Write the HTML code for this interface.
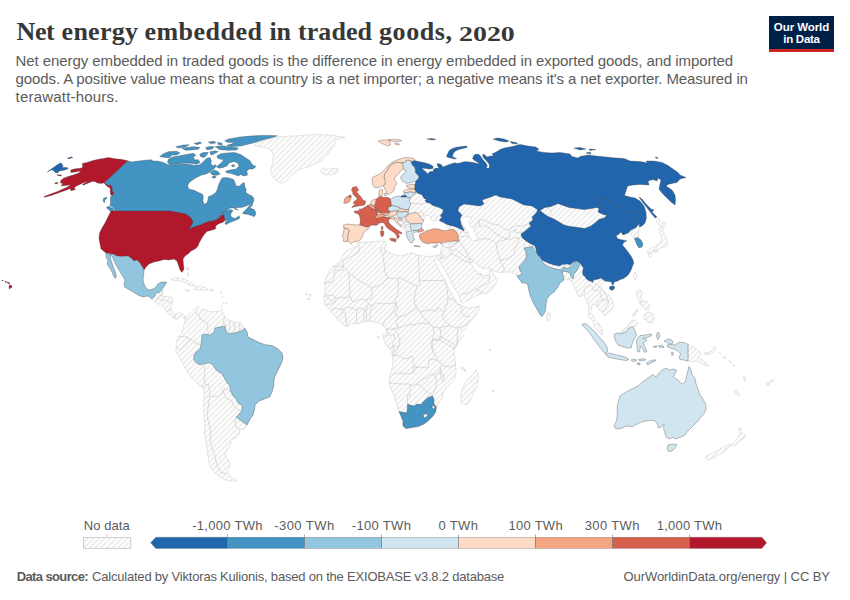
<!DOCTYPE html>
<html><head><meta charset="utf-8">
<style>
html,body{margin:0;padding:0;background:#fff;}
body{width:850px;height:600px;position:relative;overflow:hidden;font-family:"Liberation Sans",sans-serif;}
.abs{position:absolute;white-space:nowrap;}
.tw{font-family:"Liberation Serif",serif;font-weight:bold;font-size:26px;line-height:30px;color:#373737;top:17.1px;}
.sub{left:15.6px;font-size:15px;line-height:18px;color:#5b5b5b;}
#logo{left:769px;top:16px;width:65px;height:33px;background:#002147;}
#logo .bar{position:absolute;left:0;top:33px;width:65px;height:2.8px;background:#ce261e;}
#logo .t{position:absolute;left:0;width:65px;text-align:center;color:#fff;font-weight:bold;font-size:11.5px;line-height:12px;}
.foot{font-size:13px;color:#5b5b5b;top:568.8px;line-height:16px;}
.lg{font-size:13px;color:#5b5b5b;line-height:16px;top:517.5px;transform:translateX(-50%);}
</style></head>
<body>
<div class="abs tw" style="left:16.6px;letter-spacing:-0.45px">Net</div>
<div class="abs tw" style="left:61.6px;letter-spacing:0.26px">energy</div>
<div class="abs tw" style="left:144.4px;letter-spacing:0.5px">embedded</div>
<div class="abs tw" style="left:269.6px;letter-spacing:-0.28px">in</div>
<div class="abs tw" style="left:298px;letter-spacing:0.07px">traded</div>
<div class="abs tw" style="left:379px;letter-spacing:0.58px">goods,</div>
<div class="abs tw" style="left:459.4px;top:19.1px;font-size:20px;transform-origin:0 0;transform:scaleX(1.395)">2020</div>
<div class="abs sub" style="top:52.3px;letter-spacing:-0.083px">Net energy embedded in traded goods is the difference in energy embedded in exported goods, and imported</div>
<div class="abs sub" style="top:70.4px;letter-spacing:-0.105px">goods. A positive value means that a country is a net importer; a negative means it's a net exporter. Measured in</div>
<div class="abs sub" style="top:88.4px;letter-spacing:0.2px">terawatt-hours.</div>
<div id="logo" class="abs"><div class="t" style="top:4.5px;letter-spacing:-0.08px">Our World</div><div class="t" style="top:16.5px;letter-spacing:-0.26px">in Data</div><div class="bar"></div></div>
<svg class="abs" style="left:0;top:0" width="850" height="600" viewBox="0 0 850 600">
<defs>
<pattern id="hatch" width="4" height="4" patternUnits="userSpaceOnUse" patternTransform="rotate(-45 2 2)"><rect x="-1" y="-1" width="6" height="6" fill="#fff"/><path d="M-1,2 l6,0" stroke="#d0d0d0" stroke-width="0.72"/></pattern>
</defs>
<g id="map" stroke-linejoin="round">
<path d="M255,144.7 257.5,142.5 263.3,140.8 270,138.7 277.5,137 286.7,136.3 298.3,135.8 311.7,134.7 323.3,134.7 333.3,135.3 345,137.5 338.3,138.7 335.8,140.8 334.2,145 331.7,148.3 329.2,152.5 325.8,156.7 322.5,160 318.3,162.5 313.3,165 307.5,167 301.7,168.7 296.7,170.8 292.5,174.2 289.2,178 285.8,181.7 281.7,183.3 277.5,181.7 274.2,178.7 272,175 270.8,170.8 271.7,166.7 273,162.5 272,159.2 273.7,155.8 272.5,152.5 270,149.2 265,147.5 259.2,146.7 255.3,145.8Z" fill="url(#hatch)" stroke="#cfcfcf" stroke-width="0.55" fill-rule="evenodd"/>
<path d="M320.8,170 323.3,168.3 328.3,169.2 332.5,168 337.5,168.7 338.7,170.8 335.8,173.3 330.8,174.7 325.8,174.7 322,173Z" fill="url(#hatch)" stroke="#cfcfcf" stroke-width="0.55" fill-rule="evenodd"/>
<path d="M151.8,299.1 152.9,297.9 154.7,296.2 155.3,293.8 157.1,292.6 159.4,292.1 161.2,290.3 162.4,288.5 162.9,292.6 162.1,295.2 163.5,296.8 168.2,296.2 171.8,297.4 172.9,299.1 172.4,302.1 171.5,305.6 170.8,309.1 171.8,311.5 173.5,313.2 175.3,314.4 177.6,313.2 180.6,312.6 182.9,313.8 184.7,315.6 185.9,317.9 185.3,319.5 184.1,317.9 181.8,315.8 179.4,317 177.6,319.4 175.3,318.8 171.8,316.4 169.4,314.1 166.5,311.7 164.7,308.8 161.8,305.8 157.6,303.5 154.1,301.7Z" fill="url(#hatch)" stroke="#cfcfcf" stroke-width="0.55" fill-rule="evenodd"/>
<path d="M171,279 176,277.6 182,278.4 188,281 193,283.6 195,285.6 190,285.6 186,283 180,281 174,280.4Z" fill="url(#hatch)" stroke="#cfcfcf" stroke-width="0.55" fill-rule="evenodd"/>
<path d="M195,287 200,286 205,287.6 208,289.6 203,290.4 198,290 194,289.6Z" fill="url(#hatch)" stroke="#cfcfcf" stroke-width="0.55" fill-rule="evenodd"/>
<path d="M185,289.6 189,289.6 189.6,291 186,291.2Z" fill="url(#hatch)" stroke="#cfcfcf" stroke-width="0.55" fill-rule="evenodd"/>
<path d="M209.6,289.4 213,289.4 213.2,290.8 210,290.8Z" fill="url(#hatch)" stroke="#cfcfcf" stroke-width="0.55" fill-rule="evenodd"/>
<path d="M186,319 190,313 195,309 199,306 198,309 196,313 199,314.4 202,309 208,311 214,312 220,311 223,313 225,317 229,320 234,322 240,322.4 244,327 247,332 248,337 254,340 260,343 266,345 272,345.6 278,349 282,353 283,358 281,364 278,370 275,376 274,380 273.6,386 272,392 269.6,397 264,399 259,401 255,405 254.4,410 253,415 250,419 247,425 246.4,426 244,429.6 239,429 240,431 239,435 236,438 230,440 231,443 229,447 227,450 225,454 226,457 229,460 230,464 229,468 227,471 229,474 231,478 236,479 237,480.6 232,481.4 226,480 220,477 215,473 211,468 209,462 208,456 207,448 205.6,440 204.4,432 205,424 204,416 203.6,408 204,400 204.4,392 203,385 203,388 198,384 193,379 189,374 185,368 182,362 179,356 175.6,351 176.4,347 176,342 178,337 181,334 183,329 184,324Z" fill="url(#hatch)" stroke="#cfcfcf" stroke-width="0.55" fill-rule="evenodd"/>
<path d="M540,210.6 545,207.4 551,206.6 558,203.4 562,205 569,207.4 577,208.6 584,209.4 591,208.6 597,207.4 599,209 598,212 602,214 607,215.4 604,218 599,219.4 595,223 591,226 585,228.6 578,227.4 570,226.6 564,225 559,222 554,219 548,216.6 543,213Z" fill="url(#hatch)" stroke="#cfcfcf" stroke-width="0.55" fill-rule="evenodd"/>
<path d="M631,230 636,227.4 638,225 640,224 641,226 638,230 639,235 636,237.4 633.6,238 632,236 630,234 628,233Z" fill="url(#hatch)" stroke="#cfcfcf" stroke-width="0.55" fill-rule="evenodd"/>
<path d="M656,220 658,218 661,221 665,223 666,225 663,227 660,226 658,224Z" fill="url(#hatch)" stroke="#cfcfcf" stroke-width="0.55" fill-rule="evenodd"/>
<path d="M659,228 663,227.6 663,232 666,237 668,242 667,246 663,247 659,249 655,250 651,253 648,252.4 647,251 651,248 656,246 660,243 662,239 660,234Z" fill="url(#hatch)" stroke="#cfcfcf" stroke-width="0.55" fill-rule="evenodd"/>
<path d="M648,252.4 651,253.6 652,256 650,257 648,255Z" fill="url(#hatch)" stroke="#cfcfcf" stroke-width="0.55" fill-rule="evenodd"/>
<path d="M654,251 658,250 657.6,252 654.4,252.4Z" fill="url(#hatch)" stroke="#cfcfcf" stroke-width="0.55" fill-rule="evenodd"/>
<path d="M633.5,275 634.5,273 636,272.2 637,273.5 636.8,276.5 636,279 635,280 634,278Z" fill="url(#hatch)" stroke="#cfcfcf" stroke-width="0.55" fill-rule="evenodd"/>
<path d="M547,313 549,312 550.4,315 550,319 548,321 546.4,318Z" fill="url(#hatch)" stroke="#cfcfcf" stroke-width="0.55" fill-rule="evenodd"/>
<path d="M358,245.6 353,248 348,250 344,253 342,257 341,260 337,264 333,267 330,270 328,274 326,278 324.4,283 325.6,288 325,293 323.6,298 325,301 324.4,304 327,307 330,310 333,314 336,318 340,322 344,325 347,326.4 352,324 358,323.6 364,322 369,321 375,322 380,323 383,326 386,328 387,332 385,336 383,335 384,341 387,346 391,351 392.4,355 393,361 392,369 390,375 389,383 391,389 394,395 396,403 399,411 401,416 403,421 403,426 406,428.6 412,427.4 418,426.6 424,424 429,420 433,416 435.6,412 436.4,407.4 439,402 442,399 443,393 446,388 451,383 455,378 456,372 455.6,366 455,360 454,353 455,347 458,342 462,337 464,335 456,345 457,341 459,336 463,331 468,325 472,320 476,315 479,310 480,306 476,307 468,308 462,306 460,304 458.5,305 456,301 453.5,297 451.5,293 449,289 447,285 445,280 442.5,276 440,272 438,268 436,264 434.5,260 435,257.5 436.2,256.5 437.2,258 438.8,260.8 440,258.5 440.3,255.5 439.6,255 436,255.4 430,256.6 424,256 417,255 412,253 407,254 402,256 396,255 390,253 387,251 384,249 385.6,246 386,242 383,241 377,241.4 370,242 364,242.6 358,242Z" fill="url(#hatch)" stroke="#cfcfcf" stroke-width="0.55" fill-rule="evenodd"/>
<path d="M461,395 462.4,389 465,383 469,378 473,374 476,370 478,373 478.4,378 477,385 474,392 471,399 468,404 464,405 461,402Z" fill="url(#hatch)" stroke="#cfcfcf" stroke-width="0.55" fill-rule="evenodd"/>
<path d="M423,415.4 425.6,413.4 428,414.6 426,417.4 424,418Z" fill="url(#hatch)" stroke="#cfcfcf" stroke-width="0.55" fill-rule="evenodd"/>
<path d="M432,406 434,405.4 435,407.4 433.6,409 432,408Z" fill="url(#hatch)" stroke="#cfcfcf" stroke-width="0.55" fill-rule="evenodd"/>
<path d="M441.2,244.2 443,244 442,246 441,251 439.6,255 440.3,255.5 440.5,258 440,261 441.5,265 444,269 446.5,273 449,277 450.5,281 452.5,285 455,289 457.5,293 459.5,297 460.5,301 461.8,303.5 468,300 476,296 483,293 486,294 490,291 493,288 496,283.5 497.5,279.5 495,276 492,272 490.5,269.1 490,271 489,274 487.5,277 485,278.5 482,277 480.8,275 479.7,273 479,275 477.5,272.5 475.5,270 473,266.5 471,263.5 469.5,261 469.5,260 472,259.5 474.5,261.5 477,264.5 480,267 484,269 488,268 490.5,268.1 492.5,270.1 495.5,271.6 500,272.4 506,272 512,272 516.5,275 517,276 524,275 528,265 526,252 524,248 528,233 544,225 552,211 544,206 520,200 496,192 480,196 460,200 456,214 465,229.3 463.8,230.7 461.7,229.2 458.3,227.5 455,226.2 451.7,225.4 448.3,224.2 445.4,222.9 446.7,226.7 451.7,229.3 456.7,232.5 458.3,235.4 458.3,241.2 450,242.9Z" fill="url(#hatch)" stroke="#cfcfcf" stroke-width="0.55" fill-rule="evenodd"/>
<path d="M412.9,195 416.2,192.9 418.8,193.8 421.2,194.2 422.5,195.8 424.6,198.8 426.7,199.6 425,200.8 426.7,202.5 429.6,202.9 432.1,205 435,206.2 437.9,207.1 440.8,208.3 442.9,209.6 442.1,212.5 440.8,215.4 439.2,215.8 436.7,216.7 437.9,219.2 436.7,220.4 434.6,220.8 433.3,221.7 432.1,220.4 430.8,219.6 430.4,218.3 431.7,217.7 430.8,217.3 428.3,215.8 425.8,215 424.2,217.1 423.8,220 421.2,218.8 420,216.2 418.3,213.8 416.2,212.5 412.5,212.9 409.2,213.8 408.3,214.2 405.4,218.3 407.1,221.2 409.2,222.5 410.4,224.2 410.4,226.7 410.8,229.2 412.5,230.8 409.2,231.2 406.2,232.5 405,230.8 403.3,228.8 401.7,226.7 400,225.4 405.8,221.7 403.3,220 402.1,220.4 402.5,219.2 403.3,217.9 406.2,216.2 407.9,213.8 410,213.3 407.9,214.2 408.3,211.7 408.3,211.2 408.8,209.3 409.6,206.7 410.8,203.8 409.6,201.7 410,198.3 410.8,197.5Z" fill="url(#hatch)" stroke="#cfcfcf" stroke-width="0.55" fill-rule="evenodd"/>
<path d="M542,260 546,259.4 552,263 558,265.4 561,267.4 560,270 554,268.6 548,266.6 543,263Z" fill="url(#hatch)" stroke="#cfcfcf" stroke-width="0.55" fill-rule="evenodd"/>
<path d="M563,266 568,265 571,266.6 568,268.4 563,267.4Z" fill="url(#hatch)" stroke="#cfcfcf" stroke-width="0.55" fill-rule="evenodd"/>
<path d="M562,271 568,272 570,273 571,276 570,279 569,279 567,280 565,278 563,275Z" fill="url(#hatch)" stroke="#cfcfcf" stroke-width="0.55" fill-rule="evenodd"/>
<path d="M570,278.5 572,276.5 573,274 574.5,271.5 576.5,269 579,266 581,264.5 584,265 593,275 604,277 604,280.5 602.9,282.9 601.6,283.5 600.7,284.8 600,286.3 601,287.9 602.9,289.5 604.8,291.4 607,293.6 609.2,295.8 611.1,298.4 612.4,300.9 613.3,303.4 613.8,306 613,308.2 611.1,310.4 608.6,312.6 606,314.5 604.1,315.5 603.5,314.5 602.9,312.6 601.6,311.7 599.7,310.4 598.1,308.5 597.2,306.6 595.9,305.7 594,305 592.4,304.4 591.6,305.7 592,307.2 591.6,309.1 590.5,311 590.8,312.9 592.1,314.5 593.7,316.1 594.5,318.5 596,320.5 598,322.5 600,325.5 601.5,328.5 602.5,331.5 603,334 602,335 600,333.5 597.5,331 595.5,328.5 594,325 593,321.5 591.5,319 589,317 588,316.1 588.3,313.6 588.6,311 588.9,308.5 588.6,306 587.7,303.4 586.4,300.9 585.5,298.4 584.5,295.8 583.6,294.9 582,295.8 580.1,296.8 578.2,296.2 577.2,293.6 576.3,290.8 575,287.6 573,284 571,281.5Z" fill="url(#hatch)" stroke="#cfcfcf" stroke-width="0.55" fill-rule="evenodd"/>
<path d="M637,291 640,289.6 642,293 641,298 643,302 646,305 644,307 640,304 638,299 636.4,294Z" fill="url(#hatch)" stroke="#cfcfcf" stroke-width="0.55" fill-rule="evenodd"/>
<path d="M640,302 646,301 650,306 649,310 645,309 642,306Z" fill="url(#hatch)" stroke="#cfcfcf" stroke-width="0.55" fill-rule="evenodd"/>
<path d="M644,315 648,312 652,313 654.4,318 653,322.4 649,323 647,320 644,319Z" fill="url(#hatch)" stroke="#cfcfcf" stroke-width="0.55" fill-rule="evenodd"/>
<path d="M632.4,315.6 637,309 638,309.6 633.6,316.4Z" fill="url(#hatch)" stroke="#cfcfcf" stroke-width="0.55" fill-rule="evenodd"/>
<path d="M619,333 623,330 627,326 631,321 635,320 638,324 635,327 633,326.4 629,328 626,332 620,334Z" fill="url(#hatch)" stroke="#cfcfcf" stroke-width="0.55" fill-rule="evenodd"/>
<path d="M688,344.4 692,346 696,349 700,352 701,355 698,357 702,360 707,363.6 709,365.6 704,365 700,362.4 696,361 692,361.6 688,361Z" fill="url(#hatch)" stroke="#cfcfcf" stroke-width="0.55" fill-rule="evenodd"/>
<path d="M704,353 709,352.4 713,350 714,347 716,348 714.4,351.6 710,354.4 705,354.4Z" fill="url(#hatch)" stroke="#cfcfcf" stroke-width="0.55" fill-rule="evenodd"/>
<path d="M719,352.4 721,353.6 720,354.4Z" fill="url(#hatch)" stroke="#cfcfcf" stroke-width="0.55" fill-rule="evenodd"/>
<path d="M723,356 726,358 725,358.8Z" fill="url(#hatch)" stroke="#cfcfcf" stroke-width="0.55" fill-rule="evenodd"/>
<path d="M729,360 732,362.4 731,363.2Z" fill="url(#hatch)" stroke="#cfcfcf" stroke-width="0.55" fill-rule="evenodd"/>
<path d="M733,364 735,366 734,366.8Z" fill="url(#hatch)" stroke="#cfcfcf" stroke-width="0.55" fill-rule="evenodd"/>
<path d="M743.6,376 745.2,377 745.6,381 744,380Z" fill="url(#hatch)" stroke="#cfcfcf" stroke-width="0.55" fill-rule="evenodd"/>
<path d="M734.4,391 736.4,390.4 740,395 739,396.4 736,394Z" fill="url(#hatch)" stroke="#cfcfcf" stroke-width="0.55" fill-rule="evenodd"/>
<path d="M739,428.4 741,428 742,433 746,436.4 743,439 740,441 737,444 733.6,446.4 732,445 734.4,442 737.6,438 739.6,434Z" fill="url(#hatch)" stroke="#cfcfcf" stroke-width="0.55" fill-rule="evenodd"/>
<path d="M731,444 730,447 725,451 719,455 713,458 708,460 705,458 709,454.4 715,452 721,448.4 727,445Z" fill="url(#hatch)" stroke="#cfcfcf" stroke-width="0.55" fill-rule="evenodd"/>
<path d="M305.6,293.6 307.2,293.2 307.6,294.8 306,295Z" fill="url(#hatch)" stroke="#cfcfcf" stroke-width="0.55" fill-rule="evenodd"/>
<path d="M309.6,294.4 311.2,294.4 311,296.4 309.4,296Z" fill="url(#hatch)" stroke="#cfcfcf" stroke-width="0.55" fill-rule="evenodd"/>
<path d="M307.2,298.4 309.6,298 309.6,299.4 307.6,299.6Z" fill="url(#hatch)" stroke="#cfcfcf" stroke-width="0.55" fill-rule="evenodd"/>
<path d="M460.6,220.6 462.5,218.8 465.6,216.9 468.8,216.5 471.2,218.1 470,220.6 468.8,223.8 471.2,226.9 474.4,229.4 475,232.5 476.9,236.2 478.1,240.2 473.1,240.6 470,238.8 468.8,235.6 467.5,231.9 465,228.1 462.5,224.4Z" fill="#fff" stroke="#cfcfcf" stroke-width="0.55" fill-rule="evenodd"/>
<path d="M766,383 769,382 769.6,384.4 767,385.6Z" fill="url(#hatch)" stroke="#cfcfcf" stroke-width="0.55" fill-rule="evenodd"/>
<path d="M770,381 773.6,379.6 774,380.8 770.4,382Z" fill="url(#hatch)" stroke="#cfcfcf" stroke-width="0.55" fill-rule="evenodd"/>
<path d="M220.4,292.4 221.4,292.2 221.6,293.1 220.6,293.4Z" fill="url(#hatch)" stroke="#cfcfcf" stroke-width="0.55" fill-rule="evenodd"/>
<path d="M222.1,296.5 222.9,296.5 222.9,297.4 222.1,297.4Z" fill="url(#hatch)" stroke="#cfcfcf" stroke-width="0.55" fill-rule="evenodd"/>
<path d="M222.7,302.3 223.5,302.3 223.5,303.2 222.7,303.2Z" fill="url(#hatch)" stroke="#cfcfcf" stroke-width="0.55" fill-rule="evenodd"/>
<path d="M225.9,303 226.8,303 226.8,303.8 225.9,303.8Z" fill="url(#hatch)" stroke="#cfcfcf" stroke-width="0.55" fill-rule="evenodd"/>
<path d="M220.9,306.2 221.8,306.2 221.8,307 220.9,307Z" fill="url(#hatch)" stroke="#cfcfcf" stroke-width="0.55" fill-rule="evenodd"/>
<path d="M221.4,309.5 222.4,309.5 222.4,310.3 221.4,310.3Z" fill="url(#hatch)" stroke="#cfcfcf" stroke-width="0.55" fill-rule="evenodd"/>
<path d="M461.6,367.4 463.2,367.4 463.2,369 461.6,369Z" fill="url(#hatch)" stroke="#cfcfcf" stroke-width="0.55" fill-rule="evenodd"/>
<path d="M464,369.4 465.6,369.4 465.6,371 464,371Z" fill="url(#hatch)" stroke="#cfcfcf" stroke-width="0.55" fill-rule="evenodd"/>
<path d="M489.6,349.4 491,349.4 491,350.8 489.6,350.8Z" fill="url(#hatch)" stroke="#cfcfcf" stroke-width="0.55" fill-rule="evenodd"/>
<path d="M492.4,390.4 494,390.4 494,392 492.4,392Z" fill="url(#hatch)" stroke="#cfcfcf" stroke-width="0.55" fill-rule="evenodd"/>
<path d="M377.6,336.6 379,336.6 379,338.2 377.6,338.2Z" fill="url(#hatch)" stroke="#cfcfcf" stroke-width="0.55" fill-rule="evenodd"/>
<path d="M186,268 188.4,267.6 189.2,269.6 186.8,270Z" fill="url(#hatch)" stroke="#cfcfcf" stroke-width="0.55" fill-rule="evenodd"/>
<path d="M187,272.6 188.4,273 188.6,275.6 187.4,275.2Z" fill="url(#hatch)" stroke="#cfcfcf" stroke-width="0.55" fill-rule="evenodd"/>
<path d="M199,314.4 200,319 204,321 208,324 207,329 209,334M225,317 223,322 226,326M178,337 185,336 190,339 196,343 201,345M176.4,347 180,350 186,344 190,339M229,320 230,328 229,333.6M234,322 235,331M240,322.4 239.6,331M204,363.6 205,370 204,378 205,385 208,384 210,392 209,400 208,408 207,416 209,424 211,432 210,440 212,448 215,456 216,462 218,468 222,473 227,474M210,396 216,397 221,395 223,390 228,389 231,392M223,390 225,397 232,401 234,406 238,410 242,410M236,417 235,422 236,427 239,429M474.4,228.1 478.8,220.6 482.5,219.4 487.5,221.9 491.2,223.8 495,224.4 499.4,225 502.5,228.1 505.6,230 509.4,229.4 512.5,226.9 516.2,225.6 521.2,226.2 527.5,224.4 531.2,225M478.8,220.6 480,226.9 483.1,225 487.5,226.9 491.2,230 496.2,233.8 500,236.2 503.8,238.1 507.5,238.8M478.1,240.2 482.5,238.8 487.5,238.8 492.5,240.6 496.2,243.8 500,241.2 503.8,240 507.5,238.8M507.5,238.8 510,236.2 508.8,233.1 511.2,231.2 513.8,230.6 516.2,229.4 515,231.9 518.1,233.1 521.9,231.9 526.2,229.4 530,226.9M507.5,238.8 511.2,239.4 515,237.5 519.4,238.1 521.9,236.2 521.9,231.9M519.4,238.1 518.1,242.5 516.2,246.9 513.8,250 515,253.8 511.2,256.2 506.9,258.8 502.5,260 499.4,259.4M496.2,243.8 496.9,250 498.8,255 499.4,259.4 502.5,265 504.4,270 502.5,272.5M530,246.2 527.5,250 525,253.8 526.2,257.5 522.5,261.2 520,265 518.8,268.1 521.2,272.5M458.8,236.2 459.4,241.2 462.5,246.2 466.2,251.2 468.8,256.2 470.6,260 473.1,261.9M459.4,236.2 463.8,236.9 467.5,235.6 469.4,237.5M457.5,228.1 461.2,229.4 465,228.1M460,232.8 462.5,231.2 466.2,232.8 468.8,231.9M450,253.8 456.2,255.6 462.5,260 468.8,262.5 473.1,262.5M450,247.5 453.8,243.8 459.4,241.2M521.9,236.2 525,237.5 528.1,241.2 530,246.2M460,294 468,293 476,289 483,293M476,289 484,285 489,282 490,275M480,273 484,276 489,275M441,251 442.4,255 442,258.6M442,246 448,248 454,245 459,241M443,259 449,255 452,251 456,249 460,253 470,260M448,248 452,251M360,246 359,252 354,255 348,258 343,260 343,266M332,267 343,266 343,270 335,270.4 334,277 332,282 324.4,283M343,266 349,273 350,297 336,298 333,295 325,296M349,273 360,281 372,288 380,285 388,278M388,278 385,272 384,264 383,255 380,250 382,246M383,255 386,252 385,249M418.4,255 419.4,280 419.4,285 417,286M419.4,280.6 445,280.6M388,278 396,279 398,277 417,286M417,286 415,294 414,302 417,308 420,312M398,278 398.4,292 395,300 396,304M372,306 376,303 384,304 394,303 396,304M372,288 372,298 366,300M350,297 353,302 358,300 363,299 366,300 369,304 372,306M325,296 330,300 335,302 336,298M324.4,304 330,304.4 335,302M330,310 335,308 340,309 343,313 340,316 337,318M340,309 343,309 345,312 346,319 347,326.4M343,309 348,307 353,308 357,310 356.4,316 357,323.6M357,310 360,308 364.4,310 363.6,314 364,322M364.4,310 366,309 369,304M366,309 366.4,313 367,321M370,321 370,314 372,306M383,326 385,320 390,316 394,310 396,304M396,304 398,309 395,313 398,317 396,322 398,328 394,329 386,329M398,317 404,316 410,312 417,308M420,312 424,318 430,324 433,327M398,328 404,326 409,324 416,325 420,323 430,324M420,312 428,310 436,311 438,307 440,310 444,312M444,312 442,318 446,322 450,326M433,327 440,328 446,326 450,326M445,280.6 447,288 448,298 447,304 444,312M448,298 454,300 460,306 463,309M463,309 460,312 464,316 470,317M450,326 458,328 464,326 470,320M386,329 388,334 391,336 394,334 395,340 392,344M394,329 398,334 400,340 399,346 396,351 394,356M392,344 396,347 399,346M433,327 434,334 432,340 433,346 432,352M440,328 441,334 440,340M433,340 440,340 450,346 454,349M458,328 457,336 458,344 454,349M389.4,383 400,384 410,384 411,386 416,384M410,385 410,395 407.6,395 407.6,404M416,384 420,385 424,390 428,392 432.4,396M392.4,355 400,356 404,359 409,358 410,356 413,357 413,364 417,367 413,367 413,373 417,367M417,367 428,368 429,360 432,359 438,361M416,384 420,381 426,378 431,374 434,375 437,381 436,387 434,392 432.4,396M438,361 441,363 443,366 449,367 456,365M440,367 442,373 444,378 443,382 441,378 440,372 440,367M431,342 432,349 435,355 438,361M387,346 391,348 394,346 392.4,355M434,375 440,372M413,373 406,374 400,373 393,374M431,342 434,339 438,340 440,336M440,336 448,341 455,345M410.8,203.8 415,203.3 420,203.8 423.3,204.2 425.4,202.9 426.7,202.5M418.3,213.8 420,211.7 422.5,212.1 423.8,214.6 423.8,217.1M402.5,220.4 404.2,221.7 405.8,221.7M398.3,220.4 400.8,221.2 403.3,222.5 404.6,224.6 404.2,226.7 405.8,227.9M403.3,222.5 405.8,222.5 407.9,221.7 410,220.8M404.6,224.6 406.7,225 409.2,224.6 410,223.3M404.2,226.7 406.7,227.1 409.2,226.7 410,225.4M405.8,227.9 406.7,230.4 407.9,231.7M583.6,294.9 584.5,292.7 583.9,290.5 585.1,287.6 587.7,285.7 589.9,284.4M589.9,284.4 592.1,286.7 592.7,289.5 595.3,290.5 597.8,290.1 600,292.4 601,294.9 601.6,297.7 602.9,300M594,282.5 595.9,283.8 597.8,285.7 600,287.6 602.2,290.5 604.8,293.3 606.7,296.5 607.9,299M602.9,300 605.4,300.3 607.9,299M602.9,300 600.3,300.9 598.1,301.5 597.2,304.1 597.2,306.6M607.9,299 608.6,302.2 607.3,305.3 605.4,307.2 604.8,309.8 602.9,311 601.6,311.7M597.5,324 600,325M159.4,292.1 160.2,295.2 157.6,297.9 155.3,300.3M160.2,295.2 162.9,296.2M157.6,297.9 160.6,300.3 162.9,299.7 165.3,300.3 170.8,302.6 172.4,302.1M170.8,309.1 168.2,310.3 166.5,311.7M175.3,314.4 174.7,317.4 175.3,318.8M161.2,290.3 161.9,292.6 162.9,292.6" fill="none" stroke="#c6c6c6" stroke-width="0.6"/>
<path d="M115.3,210.9 114.7,210 113.5,208.2 111.8,206.5 110,205.3 110.6,202.9 110.4,199.4 110.6,196.5 112.4,195.4 113.6,193.3 112,190.2 112.2,187.2 110.8,185.3 108,185.3 105.9,184.1 104.5,182.6 127.6,160.8 131.7,162 136.7,161.3 143.3,160.5 150.8,159.7 153.3,161 158.3,161.3 163.3,162.5 167.5,164.5 170,165.5 176.7,164.8 183.3,163.8 190,164.5 194.2,165.5 199.2,165 201.7,163.3 203.3,161.7 206.7,158.3 210,157.5 211.3,160.8 210.8,164.2 213.3,165.8 215.8,164.5 215.3,167.5 213.3,169.2 210,171.7 206.7,173.7 201.7,175 195,178.3 189.2,182.5 187.5,185.8 189.2,189.2 194.2,190.3 198.3,192.5 202.5,194.2 203.3,196.7 202.8,200.8 204.2,204.2 206.7,203.3 208,200 208.3,196.7 212.5,195 215.8,192.5 217.5,189.2 218.3,185.8 220,181.7 221.3,179.2 222.5,177.8 226.7,177.5 233.3,179.2 235,182.5 235.8,185.8 239.2,186.3 242.5,183.3 244.2,182.5 245,186.7 246.2,190 245.8,192.5 248.3,194.2 251.7,195.8 253.8,198.3 253.8,200.8 252.9,203.3 250,204.2 246.7,205.8 243.3,207.1 240,207.5 236.7,207.5 233.3,207.9 230.4,207.9 227.5,209.6 224.2,211.7 220.8,213.8 218.8,215.4 220,215 223.3,212.3 227.5,210.3 230.8,209.5 232.9,210.4 232.1,212.1 230.8,213.8 230.7,215.8 232.1,217.5 235,218.5 237.5,217.1 238.8,215.7 240,217.9 237.9,219.3 235,220.6 231.7,221.8 228.8,222.9 226.7,224.4 225,224 225.4,222.1 228.2,220.8 226.7,220.2 224.8,220.7 224.3,217.9 223.9,215.2 221.8,215 220.4,216.5 218.8,217.9 216.7,219.6 212.5,221 208.3,221.5 204.2,223.3 200,225 194,228 188,230 186,224 184,218 170,213 111,213Z" fill="#4393c3" stroke="#333" stroke-opacity="0.7" stroke-width="0.45" fill-rule="evenodd"/>
<path d="M159.7,156.7 162.5,154.2 168.3,151.7 176.7,151.3 180,153 176.7,155 171.7,155 170,157.5 165.8,157.5Z" fill="#4393c3" stroke="#333" stroke-opacity="0.7" stroke-width="0.45" fill-rule="evenodd"/>
<path d="M168.3,159.2 173.3,156.7 177.5,156.3 183.3,155 188.3,154.2 193.3,153.3 195.8,155 193.3,157.5 195,160 198.3,159.7 200,162.5 196.7,164.2 190,163.3 183.3,163 176.7,164.2 170,165 167.5,162.5Z" fill="#4393c3" stroke="#333" stroke-opacity="0.7" stroke-width="0.45" fill-rule="evenodd"/>
<path d="M175.8,146.7 183.3,145 189.2,144.7 185.8,146.7 178.3,148Z" fill="#4393c3" stroke="#333" stroke-opacity="0.7" stroke-width="0.45" fill-rule="evenodd"/>
<path d="M181.7,148.3 186.7,147.5 194.2,146.7 200,147.5 198.3,149.2 191.7,150 185.8,150.3Z" fill="#4393c3" stroke="#333" stroke-opacity="0.7" stroke-width="0.45" fill-rule="evenodd"/>
<path d="M194.2,143.3 200,142 201.7,143 196.7,144.7Z" fill="#4393c3" stroke="#333" stroke-opacity="0.7" stroke-width="0.45" fill-rule="evenodd"/>
<path d="M205.8,147.5 210.8,146.3 214.2,147 211.7,149.2 206.7,149.7Z" fill="#4393c3" stroke="#333" stroke-opacity="0.7" stroke-width="0.45" fill-rule="evenodd"/>
<path d="M208.3,142 214.2,141.3 215.8,143 210.8,143.7Z" fill="#4393c3" stroke="#333" stroke-opacity="0.7" stroke-width="0.45" fill-rule="evenodd"/>
<path d="M217.5,142.5 221.7,143 222.5,144.7 218.3,144.7Z" fill="#4393c3" stroke="#333" stroke-opacity="0.7" stroke-width="0.45" fill-rule="evenodd"/>
<path d="M199.7,154.2 203.3,152.5 208.3,152.5 206.7,155 204.2,157.5 200.8,156.7Z" fill="#4393c3" stroke="#333" stroke-opacity="0.7" stroke-width="0.45" fill-rule="evenodd"/>
<path d="M210,151.7 215,150.8 218.3,151.7 213.3,154.2 210.8,155Z" fill="#4393c3" stroke="#333" stroke-opacity="0.7" stroke-width="0.45" fill-rule="evenodd"/>
<path d="M215,146.7 221.7,145.8 230,146.7 238.3,148 236.7,150 228.3,150.3 220,149.7Z" fill="#4393c3" stroke="#333" stroke-opacity="0.7" stroke-width="0.45" fill-rule="evenodd"/>
<path d="M210,172.5 214.2,170 218.3,171.7 220,174.2 216.7,175.3 212.5,175Z" fill="#4393c3" stroke="#333" stroke-opacity="0.7" stroke-width="0.45" fill-rule="evenodd"/>
<path d="M211.7,177 215,175.8 216.3,177.2 213.3,178.3Z" fill="#4393c3" stroke="#333" stroke-opacity="0.7" stroke-width="0.45" fill-rule="evenodd"/>
<path d="M224.6,141 228.4,138.9 234.5,138 240.6,136.9 249.8,136.1 262.1,135.4 271.2,135.5 277.4,135.8 272.8,137.3 265.1,139.2 259,141 252.9,143 246.8,144.5 240.6,146.1 231.5,146.5 226.9,145.3 231.5,144.1 234.5,142.2 228.4,142.5Z" fill="#4393c3" stroke="#333" stroke-opacity="0.7" stroke-width="0.45" fill-rule="evenodd"/>
<path d="M216.9,156 220.8,153.7 226.9,152.9 234.5,152.6 240.6,154.5 245.2,157.5 249.8,160.6 252.1,164.4 255.9,166.7 252.9,169 249.1,169 246.8,171.3 247.5,175.1 243.7,175.9 240.6,174.4 238.4,175.9 231.5,173.6 226.9,172.8 225.4,171.3 229.9,170.1 236.1,169 239.1,165.9 237.6,162.9 233.8,161.4 229.2,162.9 226.9,165.9 223.1,167.5 219.2,168.2 216.2,166.7 219.2,164.4 222.3,162.1 223.8,159.8 220,159.1 217.7,158.3Z" fill="#4393c3" stroke="#333" stroke-opacity="0.7" stroke-width="0.45" fill-rule="evenodd"/>
<path d="M231.5,165.5 233.8,164.4 234.8,165.9 232.7,167Z" fill="#4393c3" stroke="#333" stroke-opacity="0.7" stroke-width="0.45" fill-rule="evenodd"/>
<path d="M103.5,198.2 106.5,197.3 107.1,198.2 104.9,200 104.5,202.7 103.3,201.8Z" fill="#4393c3" stroke="#333" stroke-opacity="0.7" stroke-width="0.45" fill-rule="evenodd"/>
<path d="M106.5,207.1 109.4,206.2 112.9,208.8 114.4,211.2 113.9,214.5 111.8,212.4 109.4,210.2 107.3,208.6Z" fill="#4393c3" stroke="#333" stroke-opacity="0.7" stroke-width="0.45" fill-rule="evenodd"/>
<path d="M242.5,213.3 244.2,211.2 246.7,208.8 248.8,206.2 250.8,204.6 252.9,204.2 252.1,205.8 250,207.1 251.7,208.8 254.2,209.6 255.4,211.7 255.7,214.2 254.6,216.2 252.9,216.5 252.1,215 250,215.4 248.8,214.2 245.8,214.2 243.8,213.8Z" fill="#4393c3" stroke="#333" stroke-opacity="0.7" stroke-width="0.45" fill-rule="evenodd"/>
<path d="M234.2,208.2 236.7,208.8 238.3,210 236.7,209.8 234.6,209Z" fill="#4393c3" stroke="#333" stroke-opacity="0.7" stroke-width="0.45" fill-rule="evenodd"/>
<path d="M127.6,160.8 122.4,159.6 115.3,158.8 108.2,157.6 103.5,158.5 98.8,159.2 92.9,160.6 87.1,162.4 82.4,163.5 82.6,167.4 80.6,168.2 75.3,168.8 70.8,170 70.8,172.4 75.3,172 80.6,170.7 78.8,172.9 74.1,174.7 68.2,176.5 63.5,178.2 60.9,180.4 60.2,182.4 62.6,183.8 61.2,186 65.3,185.6 70.8,184.8 67.6,187.1 63.5,188.8 57.6,191.4 50.6,194.1 44.1,196.5 44.5,197.2 51.8,195.3 58.8,192.8 65.9,190.2 70.4,188.4 70.8,190.8 75.5,189.4 74.1,187.9 76.5,186.1 82.4,183.2 88.8,180.4 82.6,184.4 83.3,185.2 89.4,182.6 92.9,181.3 95.3,181.8 97.6,182.9 101.2,183.5 104.1,182.7 105.3,184.4 107.6,186.7 110.2,187.9 110.2,191.2 110.6,194.7 112.4,195.4 113.6,193.3 112,190.2 112.2,187.2 110.8,185.3 108,185.3 105.9,184.1 104.5,182.6Z" fill="#b2182b" stroke="#333" stroke-opacity="0.7" stroke-width="0.45" fill-rule="evenodd"/>
<path d="M57.1,174.7 61.2,174.9 61.4,175.9 57.6,175.5Z" fill="#b2182b" stroke="#333" stroke-opacity="0.7" stroke-width="0.45" fill-rule="evenodd"/>
<path d="M55.1,182.7 57.9,182.4 57.6,183.8 55.3,183.9Z" fill="#b2182b" stroke="#333" stroke-opacity="0.7" stroke-width="0.45" fill-rule="evenodd"/>
<path d="M47.3,171.8 51.8,168.8 56.5,165.3 60.9,162.7 62.9,165.3 62.4,167.6 67.1,167.4 68.2,168.8 64.7,170 59.4,170.9 57.6,172.9 55.1,172.4 53.5,170.2 51.2,170 48.2,171.5Z" fill="#2166ac" stroke="#333" stroke-opacity="0.7" stroke-width="0.45" fill-rule="evenodd"/>
<path d="M67.3,158.2 70.8,157.1 72.9,157.6 69.4,158.7Z" fill="#2166ac" stroke="#333" stroke-opacity="0.7" stroke-width="0.45" fill-rule="evenodd"/>
<path d="M111,211 170,211 178,212.4 186,214 191,218 193,222 191,226 188,229 194,227 200,225 204.2,223.3 208.3,221.5 212.5,221 216.7,219.6 218.8,217.9 220.4,216.5 221.8,215 223.9,215.2 224.3,217.9 224.8,220.7 222.5,222.5 220,223.3 216.7,225 215.4,226.7 215.8,228.8 213.8,229.6 210.8,230.4 207.5,231.2 205.8,232.5 203.8,235 201.7,238.3 200.8,240 199,243 198,246 195,249 191,251 188,254 185,256 183,259 183.4,264 184,269 182,272.4 180,270 178.4,265 177,261 174,259 169,260 164,259.4 159,261 154,262 149,264 146,267 144,270 142.4,267 140,263 137,260 134,261 131,258 128,256 122,256.4 117,256 113,254 106,253 101,249 100,244 99,238 99.6,233 102,228 105,223 108,217 110,213Z" fill="#b2182b" stroke="#333" stroke-opacity="0.7" stroke-width="0.45" fill-rule="evenodd"/>
<path d="M110,254 113,254 117,256 122,256.4 128,256 131,258 134,261 137,260 140,263 142.4,267 144,270 143.6,275 143,280 144.4,285 147,289 150,290 155,288 158,284 161,282 166,282 166.8,282.3 164.1,286.8 162.4,288.5 161.2,290.3 159.4,292.1 157.1,292.6 155.3,293.8 154.7,296.2 152.9,297.9 151.8,299.1 148,296 143,297 138,295 133,292 128,289 124.4,287 124,284 125,280 122,275 119,270 116,265 113.6,260 112.4,257Z" fill="#92c5de" stroke="#333" stroke-opacity="0.7" stroke-width="0.45" fill-rule="evenodd"/>
<path d="M106,253 110,254 111,260 113,266 115,271 116.4,276 115.6,278.4 114,277 112,272 109,267 107,264 108,261 106,257Z" fill="#92c5de" stroke="#333" stroke-opacity="0.7" stroke-width="0.45" fill-rule="evenodd"/>
<path d="M244.6,328 247,332 248,337 254,340 260,343 266,345 272,345.6 278,349 282,353 283,358 281,364 278,370 275,376 274,380 273.6,386 272,392 269.6,397 264,399 259,401 255,405 254.4,410 253,415 250,419 247,425 244,423 240,420 236,417 239,414 242,410 242.4,406 238,403 236,399 233,396 231,392 230,388 229.6,385.6 227,383 225,379 222,374 216,370 213.6,366 210,363 204,363.6 201,365 197,363.6 194,360 193.6,356 196,352 200,349 201,345 201.6,340 202,335 205,334 210,335 214,332 215,328 220,327 225,326 226,331 229,334 233,333 238,332 243,330Z" fill="#92c5de" stroke="#333" stroke-opacity="0.7" stroke-width="0.45" fill-rule="evenodd"/>
<path d="M351.7,189.6 352.5,187.5 354.6,186.7 357.1,186.7 356.7,187.9 358.8,189.6 357.9,190.8 356.7,192.1 357.9,193.3 359.2,195 360.8,196.7 362.1,198.8 363.8,200.4 365.8,201.2 365.4,202.9 365,204.6 362.5,205.4 360,205.8 357.5,206.2 355,206.7 352.1,207.5 351.7,207.1 353.8,205.4 355.4,204.2 353.3,203.3 354.2,201.2 356.7,200 357.1,198.3 355.4,196.7 353.8,195 352.5,193.3 352.9,192.1 351.7,190.8Z" fill="#d6604d" stroke="#333" stroke-opacity="0.7" stroke-width="0.45" fill-rule="evenodd"/>
<path d="M348.8,195.4 350.4,195 351.7,196.2 350.8,197.5 349.2,197.3Z" fill="#d6604d" stroke="#333" stroke-opacity="0.7" stroke-width="0.45" fill-rule="evenodd"/>
<path d="M343.8,203.3 344.2,200.8 344.6,198.8 346.2,197.1 348.3,196 349.2,197.3 350.8,197.5 350.8,199.2 350,201.2 348.3,202.5 346.2,203.3Z" fill="#f4a582" stroke="#333" stroke-opacity="0.7" stroke-width="0.45" fill-rule="evenodd"/>
<path d="M353.8,211.7 355.4,211 359.2,210.8 359.6,208.8 361.2,209.2 363.3,207.9 365.8,206.7 367.5,205.4 368.8,206 370.8,207.5 373.3,209 375.4,209.8 377.1,210.4 378.5,210.8 378.5,210.8 377.9,212.5 377.5,214.2 376.7,215.4 375.4,216.7 376.7,218.3 377.1,220 377.9,221.7 378.8,223.3 377.9,224.6 375.8,225.4 373.3,225 370.4,225.4 369.6,226.2 367.5,227.1 365,226.7 362.5,225.8 359.6,225 360,223.3 360.4,220.8 360,217.9 359.3,215.4 357.9,213.8 355,212.9 353.8,211.7Z" fill="#d6604d" stroke="#333" stroke-opacity="0.7" stroke-width="0.45" fill-rule="evenodd"/>
<path d="M381.2,226.7 382.5,226.2 382.9,227.9 382.5,230 381.5,229.6Z" fill="#d6604d" stroke="#333" stroke-opacity="0.7" stroke-width="0.45" fill-rule="evenodd"/>
<path d="M367.5,205.4 369.2,204.8 371.2,204.6 372.9,205 374.2,206.2 375.4,207.9 375.4,209.6 373.3,209 370.8,207.5 368.8,206Z" fill="#f4a582" stroke="#333" stroke-opacity="0.7" stroke-width="0.45" fill-rule="evenodd"/>
<path d="M370.8,202.5 372.1,200.4 374.2,199.3 376.2,199.2 376,201.2 375.4,203.3 375,205 374.2,206.2 372.9,205 371.2,204.6 370,204.2Z" fill="#fddbc7" stroke="#333" stroke-opacity="0.7" stroke-width="0.45" fill-rule="evenodd"/>
<path d="M375.4,207.9 376.3,208.2 376.3,209.7 375.4,209.8Z" fill="#fddbc7" stroke="#333" stroke-opacity="0.7" stroke-width="0.45" fill-rule="evenodd"/>
<path d="M376.2,199.2 377.5,197.9 379.2,196.7 380.4,196.2 381.7,196.8 384.2,197.5 386.7,197.3 389.2,197.9 390.4,199.2 391,201.7 391.2,204.2 392.1,205.8 390,206.7 388.3,207.5 387.9,209.2 389.2,210.8 390,212.1 388.8,213.3 386.2,213.3 383.8,213.3 381.2,213.3 379.2,212.9 378.5,210.8 377.1,210.4 375.4,209.8 376.3,209.7 376.3,208.2 375.4,207.9 374.2,206.2 375,205 375.4,203.3 376,201.2Z" fill="#d6604d" stroke="#333" stroke-opacity="0.7" stroke-width="0.45" fill-rule="evenodd"/>
<path d="M378.8,195.4 378.8,192.1 379.6,190 381.7,189 382.9,189.6 382.5,191.7 382.9,193.8 382.1,195.4 380.4,196.2Z" fill="#fddbc7" stroke="#333" stroke-opacity="0.7" stroke-width="0.45" fill-rule="evenodd"/>
<path d="M384.2,193.8 385.8,192.9 387.1,194.2 386.2,195.4 384.6,195.4Z" fill="#fddbc7" stroke="#333" stroke-opacity="0.7" stroke-width="0.45" fill-rule="evenodd"/>
<path d="M372.1,179.2 372.5,177.5 375.8,175.8 379.2,174.2 382.1,172.1 384.6,169.6 387.1,166.7 389.6,164.2 392.5,162.1 395.8,160.4 400,159 403.3,157.9 407.5,157.5 411.2,157.9 414.2,158.8 415,160 413.8,160.8 412.5,161.7 411.2,161.2 410,160.4 407.5,160.2 405.8,161.2 404.2,162.5 401.7,162.9 399.6,162.5 398.3,162.3 396.7,162.5 393.8,163.3 391.7,164.6 390,165.8 388.8,167.9 387.5,170.4 385.8,172.5 384.6,174.2 384.2,176.7 385,179.2 385.4,181.7 385,183.8 383.8,185.4 383.2,185.8 381.7,186.2 379.2,187.5 376.7,187.9 374.2,187.1 372.9,185 372.3,182.1Z" fill="#fddbc7" stroke="#333" stroke-opacity="0.7" stroke-width="0.45" fill-rule="evenodd"/>
<path d="M398.3,162.3 399.6,162.5 401.7,162.9 402.9,164.6 403.3,166.7 403.5,168.8 401.7,170 400,171.2 399.6,172.9 397.9,174.6 395.8,176.2 394.6,177.9 394.8,180.4 396.2,182.1 397.1,183.8 395.8,185 394.6,186.7 394.2,189.2 393.3,191.2 391.7,192.5 389.6,193.8 388.3,194.2 386.8,193.3 386.2,191.7 385,189.2 384,187.1 383.5,185.7 383.8,185.4 385,183.8 385.4,181.7 385,179.2 384.2,176.7 384.6,174.2 385.8,172.5 387.5,170.4 388.8,167.9 390,165.8 391.7,164.6 393.8,163.3 396.7,162.5Z" fill="#fddbc7" stroke="#333" stroke-opacity="0.7" stroke-width="0.45" fill-rule="evenodd"/>
<path d="M401.7,162.9 404.2,162.5 405.8,161.2 407.5,160.2 410,160.4 411.2,161.2 411.7,163.3 412.9,165.4 414.6,167.1 415.4,169.6 415.8,172.5 417.5,174.6 419.2,176.7 418.3,178.8 416.2,180.8 413.3,182.1 410,182.9 406.7,183.3 404.2,182.5 402.1,180.8 401,178.8 400.8,176.7 402.1,175 404.2,173.3 405.8,171.8 406.2,170.7 404.2,170 403.5,168.8 403.3,166.7 402.9,164.6Z" fill="#d1e5f0" stroke="#333" stroke-opacity="0.7" stroke-width="0.45" fill-rule="evenodd"/>
<path d="M378.2,141.1 381.8,140.2 386.7,139.9 391,140.6 389.5,142.8 391,144.2 388.1,146.3 385.3,144.9 381.8,143.5Z" fill="#fddbc7" stroke="#333" stroke-opacity="0.7" stroke-width="0.45" fill-rule="evenodd"/>
<path d="M388.1,139.6 394.5,139.2 400.9,139.9 401.6,141.1 395.9,141.6 391,141.1Z" fill="#fddbc7" stroke="#333" stroke-opacity="0.7" stroke-width="0.45" fill-rule="evenodd"/>
<path d="M394.5,143.5 398,143 399.5,144.5 395.9,144.9Z" fill="#fddbc7" stroke="#333" stroke-opacity="0.7" stroke-width="0.45" fill-rule="evenodd"/>
<path d="M406.2,185.4 410,184.6 415,184.6 415,186.7 414.8,188.8 411.7,188.8 408.8,187.9 406.7,186.7Z" fill="#fddbc7" stroke="#333" stroke-opacity="0.7" stroke-width="0.45" fill-rule="evenodd"/>
<path d="M403.3,191.2 405.4,189.6 408.8,189 411.7,189 414.8,189.2 416.2,192.1 413.3,192.3 410,191.8 406.7,192.5 403.8,192.5Z" fill="#fddbc7" stroke="#333" stroke-opacity="0.7" stroke-width="0.45" fill-rule="evenodd"/>
<path d="M403.8,193.8 406.7,192.7 410,192.1 413.3,192.5 416.2,192.9 412.9,195 410.8,197.5 408.3,197.9 406.7,196.2 404.6,195Z" fill="#d1e5f0" stroke="#333" stroke-opacity="0.7" stroke-width="0.45" fill-rule="evenodd"/>
<path d="M400.8,196.5 402.1,195.4 404.6,195.2 406.7,196.2 406.2,197.1 401.2,197.1Z" fill="#2166ac" stroke="#333" stroke-opacity="0.7" stroke-width="0.45" fill-rule="evenodd"/>
<path d="M391.2,198.8 394.2,197.1 398.3,196 401.2,196.5 401.2,197.1 406.2,197.1 408.3,197.9 410,198.3 409.6,201.7 410.8,203.8 409.6,206.7 408.8,209.2 405,210 402.1,208.8 399.6,207.5 397.5,206.7 395,206.2 392.1,205.8 391.2,204.2 391,201.7 390.4,199.2Z" fill="#d1e5f0" stroke="#333" stroke-opacity="0.7" stroke-width="0.45" fill-rule="evenodd"/>
<path d="M388.3,207.5 390,206.7 392.1,205.8 395,206.2 397.5,206.7 399.6,207.5 400,208.8 398.3,210 395.8,210.8 393.3,211.2 390.8,211.7 389.2,210.8 387.9,209.2Z" fill="#d1e5f0" stroke="#333" stroke-opacity="0.7" stroke-width="0.45" fill-rule="evenodd"/>
<path d="M382.5,214.6 385.4,215 389.2,214.2 390,212.1 390.8,211.7 393.3,211.2 395.8,210.8 397.5,211.7 397.1,213.3 395.8,215 393.3,215.8 390,216.7 388.3,215.8 385.4,215.4 383.8,214.6Z" fill="#fddbc7" stroke="#333" stroke-opacity="0.7" stroke-width="0.45" fill-rule="evenodd"/>
<path d="M375.4,216.7 376.7,215.4 379.2,214.2 381.7,213.8 383.8,214.6 385.4,215.4 383.8,216.7 381.7,217.5 379.2,217.9 377.1,218.8Z" fill="#f4a582" stroke="#333" stroke-opacity="0.7" stroke-width="0.45" fill-rule="evenodd"/>
<path d="M398.3,210 400,208.8 402.1,208.8 405,209.8 408.8,209.3 408.3,211.2 405,211.7 400.8,212.1 398.3,211.7 397.5,211.7Z" fill="#fddbc7" stroke="#333" stroke-opacity="0.7" stroke-width="0.45" fill-rule="evenodd"/>
<path d="M397.1,213.3 397.5,211.7 398.3,211.7 400.8,212.1 405,211.7 408.3,211.7 407.9,214.2 405,216.7 401.7,217.9 400,217.9 397.9,217.1 396.7,215.4Z" fill="#d1e5f0" stroke="#333" stroke-opacity="0.7" stroke-width="0.45" fill-rule="evenodd"/>
<path d="M377.1,220 377.1,218.8 379.2,217.9 381.7,217.5 383.8,216.7 386.7,217.1 390,217.5 390.8,218.3 389.2,219.6 388.3,221.2 389.6,223.3 391.7,225.4 394.2,227.5 396.7,229.6 399.6,231.2 402.1,232.9 401.2,234 398.8,232.9 398.3,234.2 399.6,236.2 398.3,238.3 397.1,238.8 396.7,235.8 395.4,233.8 393.3,232.1 390.8,230.4 388.3,228.8 386.2,226.7 385,224.6 383.8,222.9 381.7,222.5 380,222.9 378.8,223.3 377.9,221.7Z" fill="#d6604d" stroke="#333" stroke-opacity="0.7" stroke-width="0.45" fill-rule="evenodd"/>
<path d="M389.6,238.8 392.1,238.3 394.6,238.8 396.2,239.2 395.7,242.1 393.3,241.2 390.8,240.4Z" fill="#d6604d" stroke="#333" stroke-opacity="0.7" stroke-width="0.45" fill-rule="evenodd"/>
<path d="M380.4,231.2 382.1,230.8 383.8,231.2 383.8,234.2 382.9,236.2 381.2,236.5 380.7,234.2Z" fill="#d6604d" stroke="#333" stroke-opacity="0.7" stroke-width="0.45" fill-rule="evenodd"/>
<path d="M343.8,227.1 343.3,225.4 346.2,224.2 350,224.3 354.2,224.8 359.6,225 362.5,225.8 365,226.7 367.5,227.1 369.6,226.2 369.2,227.9 367.9,229.6 365.4,230.8 363.8,232.5 362.9,235 362.5,237.1 360.8,239.2 358.8,240.8 356.2,241.5 353.3,242.1 351.2,243.8 350,242.9 349.2,241.7 347.1,241.2 347.9,238.8 347.5,236.2 348.3,233.8 349.2,230.8 348.8,229.6 346.7,228.8 344.6,228.3Z" fill="#fddbc7" stroke="#333" stroke-opacity="0.7" stroke-width="0.45" fill-rule="evenodd"/>
<path d="M343.8,227.1 344.6,228.3 346.7,228.8 348.8,229.6 349.2,230.8 348.3,233.8 347.5,236.2 347.9,238.8 347.1,241.2 345,241.7 343.3,241.2 343.8,238.8 342.5,236.7 342.9,233.8 343.8,230.8 344,228.8Z" fill="#fddbc7" stroke="#333" stroke-opacity="0.7" stroke-width="0.45" fill-rule="evenodd"/>
<path d="M391.2,217.1 394.2,216.7 395.4,217.9 393.3,219.2 391.2,218.8Z" fill="#fddbc7" stroke="#333" stroke-opacity="0.7" stroke-width="0.45" fill-rule="evenodd"/>
<path d="M394.2,219.2 395.4,217.9 396.7,218.3 400,218.3 402.5,219.2 402.1,220.4 400,220 398.3,220.4 397.5,221.7 399.6,224.2 401.7,226.2 400.8,226.7 398.3,224.6 396.2,222.5 395,220.8Z" fill="#fddbc7" stroke="#333" stroke-opacity="0.7" stroke-width="0.45" fill-rule="evenodd"/>
<path d="M405.4,218.3 407.1,215.8 408.3,214.2 409.2,213.8 412.5,212.9 416.2,212.5 418.3,213.8 420,216.2 421.2,218.8 423.8,220 423.3,221.7 422.1,223.8 420.4,223.3 416.7,223.8 413.3,223.8 410.4,223.8 409.2,222.5 407.1,221.2 405.8,220Z" fill="#fddbc7" stroke="#333" stroke-opacity="0.7" stroke-width="0.45" fill-rule="evenodd"/>
<path d="M410.4,224.2 413.3,223.8 416.7,223.8 420.4,223.3 422.1,224.2 421.5,226.2 421.8,228.3 420.4,229 417.9,230.4 415.4,230.4 412.5,230.8 410.8,229.2 410.4,226.7Z" fill="#d1e5f0" stroke="#333" stroke-opacity="0.7" stroke-width="0.45" fill-rule="evenodd"/>
<path d="M406.2,232.5 409.2,231.2 412.5,230.8 415.4,230.4 417.9,230.4 418.5,232.1 416.2,231.8 414.2,232.5 412.5,233.8 413.8,235.4 412.9,236.7 414.2,238.8 414.6,240 412.9,240.4 412.5,242.5 410.8,242.9 409.2,241.2 407.9,238.8 406.7,236.2 406,234.2Z" fill="#d1e5f0" stroke="#333" stroke-opacity="0.7" stroke-width="0.45" fill-rule="evenodd"/>
<path d="M413.8,245.4 416.7,245.7 419.8,246 420,246.7 416.7,246.7 414,246.2Z" fill="#d1e5f0" stroke="#333" stroke-opacity="0.7" stroke-width="0.45" fill-rule="evenodd"/>
<path d="M432.9,246.7 434.6,245.8 436.7,245 437.9,244.8 437.1,246.2 435.4,247.5 433.8,247.7Z" fill="#d1e5f0" stroke="#333" stroke-opacity="0.7" stroke-width="0.45" fill-rule="evenodd"/>
<path d="M419.3,235 420.8,233.8 423.8,232.5 426.7,230.8 429.6,230 432.9,228.8 436.7,228.8 440,229.6 443.3,230.8 446.7,230.4 450,229.6 453.3,229.6 455.4,230.8 457.1,233.3 458.3,235.4 457.9,237.9 458.8,240 458.3,241.2 455,241 451.7,241.2 448.3,241.7 445,242.1 442.1,242.5 441.2,244.2 440.4,242.5 437.5,242.9 435,243.3 432.5,242.9 430,243.3 427.5,243.8 425,242.9 422.5,242.1 421.2,240.4 420,238.8 419.6,236.7Z" fill="#f4a582" stroke="#333" stroke-opacity="0.7" stroke-width="0.45" fill-rule="evenodd"/>
<path d="M418.8,230 420.4,229 421.8,228.3 422.5,229.3 424.2,230.4 422.5,231.2 420.4,231.8 418.8,232.5 418.3,231.2Z" fill="#f4a582" stroke="#333" stroke-opacity="0.7" stroke-width="0.45" fill-rule="evenodd"/>
<path d="M414.2,160.6 419.5,161.7 424.8,162.8 430.1,164.4 433.3,166.5 432.8,168.6 429.6,169.1 425.9,168.6 421.6,168.1 423.8,170.2 425.9,171.8 427.5,173.9 429.1,172.3 431.2,171.2 432.8,171.8 433.8,169.1 436.5,168.1 439.1,168.6 437.7,165.9 437,163.8 439.1,163.8 441.8,164.9 442.3,167 444.9,166.3 448.1,164.9 452.4,163.5 455,162.8 457.1,163.5 460.8,162.8 464,161.7 467.2,161.7 471.4,162.2 475.6,163.1 479.4,164.1 477.8,162.2 474.6,160.6 472.5,158.5 473.5,155.9 475.1,154.3 478.8,154.3 480.4,155.9 482,158.5 483.6,160.6 485.7,162.8 487.3,165.4 486.4,168.1 488.4,168.6 489.6,166.5 488.9,163.8 486.8,161.2 484.6,159.1 483.1,156.9 482.5,154.8 484.1,154.3 485.7,155.9 487.3,156.9 490.5,155.9 493.6,155.9 492.1,153.8 494.7,152.7 497.9,151.1 500,150.1 499,150 504,148 510,147 516,145.6 520,144.4 528,146 536,147 539,149.6 536,151 544,152.4 552,153 560,152.4 570,154 572,156.4 578,158 580,156.4 588,155 596,156 606,157 616,158 624,158.4 630,161 640,161.6 648,163 646,161 654,161 662,162.4 668,165.6 673,169 678,172.4 680,175 686,177.6 680,179 677,182.4 674,183 668,184.4 666,186 672,190 675,195 675.6,200 675,205 671,202 667,198 662,193 659,189 660,184 661,180 658,178 657,181 653,179.6 648,181 649,185 640,184.4 633,185 627.6,186 626,191 624.4,195.6 630,197 635,198 640,201 644,206 646,212 646.4,218 645,223 642,226 639,227 640,224 638,221 637,217 637.6,213 633,212.6 629,213.4 624,210.6 619,208 614,204.6 609,200.6 603,199.4 599,200.6 601,204.6 600,209 597,207.4 591,208.6 584,209.4 577,208.6 569,207.4 562,205 558,203.4 551,206.6 545,207.4 540,210.6 538,210 532,206 524,205 518,202 512,199 506,198 500,197 496,195 488,198 482,200 484,204 480,206 472,205 464,204 459,207 458,211 462,215 460,219 461,224 464,230 463.8,230.7 461.7,229.6 458.3,227.9 454.2,226.2 450,225.4 446.7,224.2 442.5,222.1 439.2,220.7 440,219.2 442.1,217.1 440.4,216.2 441.2,214.2 442.9,212.5 443.3,210 442.9,209.6 440.8,208.3 437.9,207.1 435,206.2 432.1,205 429.6,202.9 426.7,202.5 425,200.8 426.7,199.6 424.6,198.8 422.5,195.8 421.2,194.2 418.8,193.8 416.2,192.1 414.8,189.2 415,186.7 415,184.6 415.4,183.3 415.8,181.2 417.9,179.2 419.2,177.1 417.9,175 415.4,172.5 415.8,170 415.4,169.6 414.6,167.1 412.9,165.4 411.7,163.3 411.2,161.2 412.5,161.7 413.8,160.8Z" fill="#2166ac" stroke="#333" stroke-opacity="0.7" stroke-width="0.45" fill-rule="evenodd"/>
<path d="M446.5,156.4 447.6,153.8 449.2,150.6 452.4,148.5 456.6,147.2 461.9,146.4 466.6,146.1 467.2,147.4 462.9,148.5 458.7,149.5 455.5,151.1 453.4,153.2 452.4,155.9 453.9,157.5 456.6,158.5 454.5,159.1 450.8,158 448.1,157.5Z" fill="#2166ac" stroke="#333" stroke-opacity="0.7" stroke-width="0.45" fill-rule="evenodd"/>
<path d="M427,139 432,138.4 436,139.2 432,140Z" fill="#2166ac" stroke="#333" stroke-opacity="0.7" stroke-width="0.45" fill-rule="evenodd"/>
<path d="M493,139 498,138 504,139 509,141 506,142 499,141Z" fill="#2166ac" stroke="#333" stroke-opacity="0.7" stroke-width="0.45" fill-rule="evenodd"/>
<path d="M510,141.6 516,142.4 518,144 512,143.6Z" fill="#2166ac" stroke="#333" stroke-opacity="0.7" stroke-width="0.45" fill-rule="evenodd"/>
<path d="M574,148 580,147.6 586,149 580,150Z" fill="#2166ac" stroke="#333" stroke-opacity="0.7" stroke-width="0.45" fill-rule="evenodd"/>
<path d="M589,149 596,149.6 590,150.4Z" fill="#2166ac" stroke="#333" stroke-opacity="0.7" stroke-width="0.45" fill-rule="evenodd"/>
<path d="M586,153 590,152 591,154Z" fill="#2166ac" stroke="#333" stroke-opacity="0.7" stroke-width="0.45" fill-rule="evenodd"/>
<path d="M655,157 658,157.6 657,158.8Z" fill="#2166ac" stroke="#333" stroke-opacity="0.7" stroke-width="0.45" fill-rule="evenodd"/>
<path d="M639,197 642,199 646,204 651,209 654,210 652,212 657,217 655,218 651,213 648,209 644,204 641,200Z" fill="#2166ac" stroke="#333" stroke-opacity="0.7" stroke-width="0.45" fill-rule="evenodd"/>
<path d="M540,210.6 538,209.4 536,213 532,217 533,220 529,223 531,226 527,229.4 524,232 521,234 522,237.4 526,241 531,244 535,246 536,250 537,254 540,257 542,260 548,263 554,265 560,266 562,264.6 568,264 570,265 573,262 577,261 580,263 582,266 583.5,268 583,270 582.5,272.5 583,275 585,276.5 586.5,279 588.5,280.5 591,281.2 592.5,282.5 593.5,280 596,279.5 598.5,279 601,278 603,279.5 604,280.5 606,281.2 609,281.5 611.5,282 612,284.5 613.2,284.8 614.5,281.8 618,281 620,279.5 622.5,279 625,277.5 628,275 630,272 631.5,269 632.5,266 633.8,263 633,260 631,256 628,252 625,248 622.4,245 624,242 627,241 623,240 618,239 616,236 619,234 621,232 623,235 628,233 631,230 636,227.4 638,225 640,224 638,221 637,217 637.6,213 633,212.6 629,213.4 624,210.6 619,208 614,204.6 609,200.6 603,199.4 599,200.6 601,204.6 600,209 599,209 598,212 602,214 607,215.4 604,218 599,219.4 595,223 591,226 585,228.6 578,227.4 570,226.6 564,225 559,222 554,219 548,216.6 543,213Z" fill="#2166ac" stroke="#333" stroke-opacity="0.7" stroke-width="0.45" fill-rule="evenodd"/>
<path d="M609.5,287 611,286 613.5,286 614.8,287 614,289 612.5,290.2 610.5,289.8 609.5,288.5Z" fill="#2166ac" stroke="#333" stroke-opacity="0.7" stroke-width="0.45" fill-rule="evenodd"/>
<path d="M634.4,238.6 638,237.4 641,240 643,244 642,247 639,248 637,245 635.6,241.4Z" fill="#4393c3" stroke="#333" stroke-opacity="0.7" stroke-width="0.45" fill-rule="evenodd"/>
<path d="M524,248 528,247 533,246.6 534,250 537,253 538,256 542,260 543,263 548,266.6 554,268.6 560,270 562,269 563,267 568,268.4 571,266.6 573,263 577,261.4 580,263 579,266 577.6,269 576,272 574,274 573,279 571,276 570,273 568,272 562,271 563,275 564,280 560,283 558,287 554,292 550,295 547,299 546,305 545.6,310 544,314 542,316.6 540,315 538,311 535,306 532.4,301 530,295 528.4,289 527.6,284 525,283 522,283 519,279 517,276 522,274 520,270 519,267 522,264 525,260 527,256 526,252Z" fill="#92c5de" stroke="#333" stroke-opacity="0.7" stroke-width="0.45" fill-rule="evenodd"/>
<path d="M399,411.6 407,413 407.6,404 410,405 414,406 417,404 421,404.6 424,401 428,397.4 432.4,396 434,399 434,404 436.4,407 435.6,412 433,416 429,420 424,424 418,426.6 412,427.4 406,428.6 403,426 403,421 401,416ZM423,415.4 425.6,413.4 428,414.6 426,417.4 424,418ZM432,406 434,405.4 435,407.4 433.6,409 432,408Z" fill="#4393c3" stroke="#333" stroke-opacity="0.7" stroke-width="0.45" fill-rule="evenodd"/>
<path d="M582,324 586,323.6 591,328 596,333 600,338 604,342 607,347 607.6,351.6 605,353.6 602,350 599,346 595,341 591,335 587,330 583,326Z" fill="#d1e5f0" stroke="#333" stroke-opacity="0.7" stroke-width="0.45" fill-rule="evenodd"/>
<path d="M605.6,354 610,353 616,355 622,356 627,358 629,359.6 626,360.6 620,359.6 614,358.4 608,357Z" fill="#d1e5f0" stroke="#333" stroke-opacity="0.7" stroke-width="0.45" fill-rule="evenodd"/>
<path d="M631,360 635,359 637,360.6 633,361.6Z" fill="#d1e5f0" stroke="#333" stroke-opacity="0.7" stroke-width="0.45" fill-rule="evenodd"/>
<path d="M638.4,359.6 644,358.6 646,360 640,361Z" fill="#d1e5f0" stroke="#333" stroke-opacity="0.7" stroke-width="0.45" fill-rule="evenodd"/>
<path d="M637,363 640,363 640,365 637.6,364.4Z" fill="#d1e5f0" stroke="#333" stroke-opacity="0.7" stroke-width="0.45" fill-rule="evenodd"/>
<path d="M646.4,363 650,361 655,359.6 656,360.4 651,363 647.6,365Z" fill="#d1e5f0" stroke="#333" stroke-opacity="0.7" stroke-width="0.45" fill-rule="evenodd"/>
<path d="M614.4,334 617,333 620,334 626,332 629,328 632.4,326.4 635,330 636.4,335 634,339 632.4,343 631,348 627,348 622,346.4 618,345 615.6,341 614.4,337Z" fill="#d1e5f0" stroke="#333" stroke-opacity="0.7" stroke-width="0.45" fill-rule="evenodd"/>
<path d="M637.6,338 640,335.6 645,335 651,334 651.6,335.6 647,337.6 643,338.4 647,340 645,342 643,343 645.6,348 647,351.6 644.4,352.4 642.4,348 640.4,346 639.6,352 637.6,351.6 637,346 636.6,341Z" fill="#d1e5f0" stroke="#333" stroke-opacity="0.7" stroke-width="0.45" fill-rule="evenodd"/>
<path d="M657,333 659,332.4 659.6,337 657.6,339.6 656.6,336Z" fill="#d1e5f0" stroke="#333" stroke-opacity="0.7" stroke-width="0.45" fill-rule="evenodd"/>
<path d="M653,346.4 657,346 656,347.6Z" fill="#d1e5f0" stroke="#333" stroke-opacity="0.7" stroke-width="0.45" fill-rule="evenodd"/>
<path d="M658.4,345.6 663,345.6 664,347.6 659.6,347.2Z" fill="#d1e5f0" stroke="#333" stroke-opacity="0.7" stroke-width="0.45" fill-rule="evenodd"/>
<path d="M664,341 668,339 672,340 673,343 670,344.4 668,343Z" fill="#d1e5f0" stroke="#333" stroke-opacity="0.7" stroke-width="0.45" fill-rule="evenodd"/>
<path d="M667,345 671,344.4 675,345 679,342.4 684,342.4 688,344.4 688,361 684,360 680,359.6 679,357 681,354 678,351 674,349 670,348 667.6,347Z" fill="#d1e5f0" stroke="#333" stroke-opacity="0.7" stroke-width="0.45" fill-rule="evenodd"/>
<path d="M671.6,352.4 673,352 673.2,355 671.8,355.4Z" fill="#d1e5f0" stroke="#333" stroke-opacity="0.7" stroke-width="0.45" fill-rule="evenodd"/>
<path d="M617,412 617.6,404 620,396 626,392 632,389 638,386 643,381.6 648,378 653,374.4 656,377 659,373 662,370 666,368 669,370 673,369 676.4,370 675.6,373 673,377 678,380 682,384 685,382 686.4,377 687.6,372 689,366.4 691,370 692,375 695,378 696,384 698,389 700,395 703,399 705.6,404 706,410 704,413.6 701,417 697,422 692,427 688,431 685,435 680,437.6 675,439 673,437 670,439 666,437 665,433 663.6,429 664,424.4 661,427 658.4,428 657,423 654,420.4 649,420.4 643,421.6 638,423.6 632,426.6 626,426 621,428.4 616,429 614,426 616.4,421 617.6,414Z" fill="#d1e5f0" stroke="#333" stroke-opacity="0.7" stroke-width="0.45" fill-rule="evenodd"/>
<path d="M668,445 672,444 677,444.6 675,448 672,451 668.4,451.6 667.2,449Z" fill="#d1e5f0" stroke="#333" stroke-opacity="0.7" stroke-width="0.45" fill-rule="evenodd"/>
<path d="M2,280.1 3.1,280.1 3.1,280.8 2.1,280.9Z" fill="#b2182b" stroke="#333" stroke-opacity="0.7" stroke-width="0.45" fill-rule="evenodd"/>
<path d="M5,281.2 6.1,281.4 6.2,282.2 5.2,282.2Z" fill="#b2182b" stroke="#333" stroke-opacity="0.7" stroke-width="0.45" fill-rule="evenodd"/>
<path d="M6.5,282 8.2,282.2 9.8,283.1 9.8,284 8.8,283.8 7.5,282.9Z" fill="#b2182b" stroke="#333" stroke-opacity="0.7" stroke-width="0.45" fill-rule="evenodd"/>
<path d="M9.2,285.5 10.5,285.1 11.9,286 11.9,287.5 10.2,288 9.5,288.9 9,288.5 9.1,286.8Z" fill="#b2182b" stroke="#333" stroke-opacity="0.7" stroke-width="0.45" fill-rule="evenodd"/>
</g>
<g id="legend">
<rect x="83.5" y="537.5" width="47.3" height="10.8" fill="url(#hatch)" stroke="#c4c4c4" stroke-width="0.8"/>
<line x1="107" y1="534.5" x2="107" y2="537.5" stroke="#c4c4c4" stroke-width="0.8"/>
<g stroke="#6b6b6b" stroke-width="0.3">
<path d="M150.6,542.8 L155.8,537.2 H227.5 V548.4 H155.8 Z" fill="#2166ac"/>
<rect x="227.5" y="537.2" width="77" height="11.2" fill="#4393c3"/>
<rect x="304.5" y="537.2" width="77" height="11.2" fill="#92c5de"/>
<rect x="381.5" y="537.2" width="77" height="11.2" fill="#d1e5f0"/>
<rect x="458.5" y="537.2" width="77" height="11.2" fill="#fddbc7"/>
<rect x="535.5" y="537.2" width="77" height="11.2" fill="#f4a582"/>
<rect x="612.5" y="537.2" width="77" height="11.2" fill="#d6604d"/>
<path d="M689.5,537.2 H761.9 L766.6,542.8 L761.9,548.4 H689.5 Z" fill="#b2182b"/>
</g>
<g stroke="#777" stroke-width="0.55">
<line x1="227.5" y1="534.3" x2="227.5" y2="548.4"/><line x1="304.5" y1="534.3" x2="304.5" y2="548.4"/>
<line x1="381.5" y1="534.3" x2="381.5" y2="548.4"/><line x1="458.5" y1="534.3" x2="458.5" y2="548.4"/>
<line x1="535.5" y1="534.3" x2="535.5" y2="548.4"/><line x1="612.5" y1="534.3" x2="612.5" y2="548.4"/>
<line x1="689.5" y1="534.3" x2="689.5" y2="548.4"/>
</g>
</g>
</svg>
<div class="abs lg" style="left:106.8px;letter-spacing:0.06px">No data</div>
<div class="abs lg" style="left:227.5px;letter-spacing:0.3px">-1,000 TWh</div>
<div class="abs lg" style="left:304.4px;letter-spacing:0.44px">-300 TWh</div>
<div class="abs lg" style="left:381.5px;letter-spacing:0.32px">-100 TWh</div>
<div class="abs lg" style="left:458.4px;letter-spacing:0.3px">0 TWh</div>
<div class="abs lg" style="left:535.7px;letter-spacing:0.28px">100 TWh</div>
<div class="abs lg" style="left:612.3px;letter-spacing:0.37px">300 TWh</div>
<div class="abs lg" style="left:689.5px;letter-spacing:0.23px">1,000 TWh</div>
<div class="abs foot" style="left:16.7px;font-weight:bold;letter-spacing:-0.62px">Data source:</div>
<div class="abs foot" style="left:92px;letter-spacing:-0.2px">Calculated by Viktoras Kulionis, based on the EXIOBASE v3.8.2 database</div>
<div class="abs foot" style="left:623.5px;letter-spacing:-0.08px">OurWorldinData.org/energy | CC BY</div>
</body></html>
